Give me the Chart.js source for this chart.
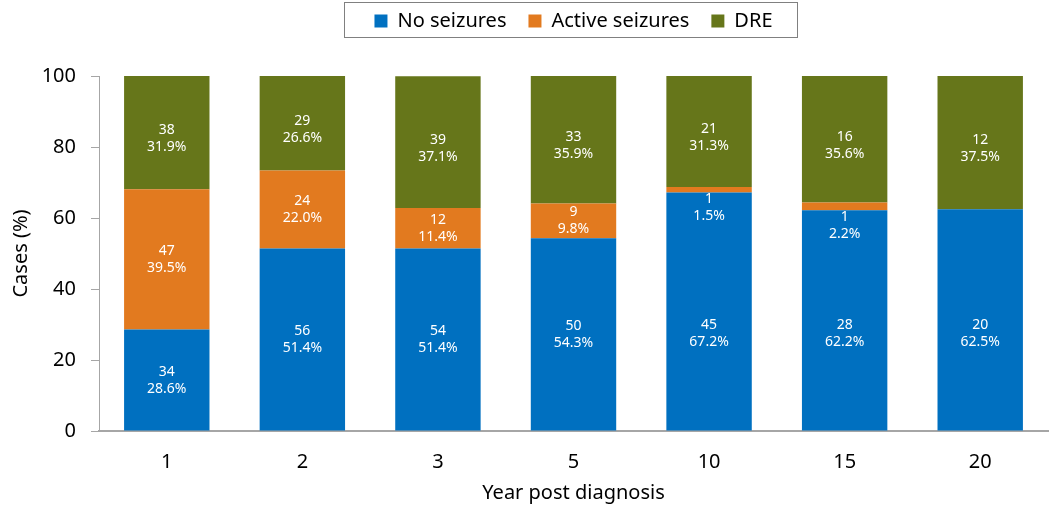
<!DOCTYPE html>
<html>
<head>
<meta charset="utf-8">
<script src="https://cdn.jsdelivr.net/npm/chart.js@4"></script>
<style>
  html, body { margin: 0; padding: 0; background: #fff; }
  #wrap { width: 1050px; height: 508px; position: relative; }
</style>
</head>
<body>
<div id="wrap"><canvas id="c"></canvas></div>
<script>
const categories = ['1', '2', '3', '5', '10', '15', '20'];
const seriesNames = ['No seizures', 'Active seizures', 'DRE'];
const noSeizuresPct = [28.6, 51.4, 51.4, 54.3, 67.2, 62.2, 62.5];
const activePct = [39.5, 22.0, 11.4, 9.8, 1.5, 2.2, 0];
const drePct = [31.9, 26.6, 37.1, 35.9, 31.3, 35.6, 37.5];
const noSeizuresN = [34, 56, 54, 50, 45, 28, 20];
const activeN = [47, 24, 12, 9, 1, 1, null];
const dreN = [38, 29, 39, 33, 21, 16, 12];
const yTicks = [0, 20, 40, 60, 80, 100];

const FONT = '"Noto Sans", "Open Sans", sans-serif';
const colors = ['#0070C0', '#E27A1F', '#66761A'];
const counts = [noSeizuresN, activeN, dreN];
const pcts = [noSeizuresPct, activePct, drePct];

// label placement style: returns the label block centre (in pixels) for a segment
function labelCenter(chart, di, lo, hi) {
  const y = chart.scales.y;
  const pLo = y.getPixelForValue(lo), pHi = y.getPixelForValue(hi);
  const h = pLo - pHi;
  if (h < 20) return pLo + 15;                 // tiny segment: label just below it
  if (di === 0) return y.getPixelForValue(Math.min((lo + hi) / 2, 27.5));
  if (di === 1) return (pLo + pHi) / 2;
  return (pLo + pHi) / 2 + 6;
}

const labelPlugin = {
  id: 'segLabels',
  afterDatasetsDraw(chart) {
    const ctx = chart.ctx;
    ctx.save();
    ctx.fillStyle = '#fff';
    ctx.font = '14px ' + FONT;
    ctx.textAlign = 'center';
    ctx.textBaseline = 'middle';
    chart.data.datasets.forEach((ds, di) => {
      const meta = chart.getDatasetMeta(di);
      meta.data.forEach((bar, i) => {
        const n = counts[di][i];
        if (n === null || n === undefined) return;
        let lo = 0;
        for (let k = 0; k < di; k++) lo += pcts[k][i];
        const hi = lo + pcts[di][i];
        const cy = labelCenter(chart, di, lo, hi);
        ctx.fillText(String(n), bar.x, cy - 8.5);
        ctx.fillText(pcts[di][i].toFixed(1) + '%', bar.x, cy + 8.5);
      });
    });
    ctx.restore();
  }
};

const legendBox = {
  id: 'legendBox',
  beforeInit(chart) {
    const fit = chart.legend.fit;
    chart.legend.fit = function () {
      fit.bind(chart.legend)();
      this.height += 35;
    };
  },
  afterDraw(chart) {
    const lg = chart.legend;
    if (!lg || !lg.legendHitBoxes || !lg.legendHitBoxes.length) return;
    const hb = lg.legendHitBoxes;
    const left = hb[0].left - 30;
    const right = hb[hb.length - 1].left + hb[hb.length - 1].width + 25;
    const ctx = chart.ctx;
    ctx.save();
    ctx.strokeStyle = '#808080';
    ctx.lineWidth = 1;
    ctx.strokeRect(Math.round(left) + 0.5, 2.5, Math.round(right - left), 35);
    ctx.restore();
  }
};

new Chart(document.getElementById('c'), {
  type: 'bar',
  data: {
    labels: categories,
    datasets: [
      { label: seriesNames[0], data: noSeizuresPct, backgroundColor: colors[0] },
      { label: seriesNames[1], data: activePct, backgroundColor: colors[1] },
      { label: seriesNames[2], data: drePct, backgroundColor: colors[2] }
    ]
  },
  options: {
    responsive: true,
    maintainAspectRatio: false,
    animation: false,
    devicePixelRatio: 1,
    layout: { padding: { left: 0, right: 2, top: -11, bottom: 0 } },
    datasets: { bar: { categoryPercentage: 1, barPercentage: 0.63 } },
    plugins: {
      legend: {
        position: 'top',
        fullSize: false,
        labels: {
          font: { family: FONT, size: 20 },
          color: '#000',
          boxWidth: 13,
          boxHeight: 13,
          padding: 22
        }
      },
      tooltip: { enabled: false }
    },
    scales: {
      x: {
        stacked: true,
        grid: { display: true, drawOnChartArea: false, drawTicks: false },
        border: { display: true, color: '#A6A6A6', width: 2 },
        ticks: { font: { family: FONT, size: 20 }, color: '#000', padding: 19 },
        title: { display: true, text: 'Year post diagnosis', font: { family: FONT, size: 20 }, color: '#000', padding: { top: 6, bottom: 3 } },
        afterFit(s) { s.height = 77; }
      },
      y: {
        stacked: true,
        min: 0,
        max: 100,
        afterBuildTicks(s) { s.ticks = yTicks.map(v => ({ value: v })); },
        grid: { display: true, drawOnChartArea: false, drawTicks: true, tickLength: 8, color: '#A6A6A6' },
        border: { display: true, color: '#A6A6A6', width: 1 },
        ticks: { font: { family: FONT, size: 20 }, color: '#000', padding: 15 },
        title: { display: true, text: 'Cases (%)', font: { family: FONT, size: 20 }, color: '#000', padding: { top: 9, bottom: 10 } },
        afterFit(s) { s.width = 99; }
      }
    }
  },
  plugins: [labelPlugin, legendBox]
});
</script>
</body>
</html>
